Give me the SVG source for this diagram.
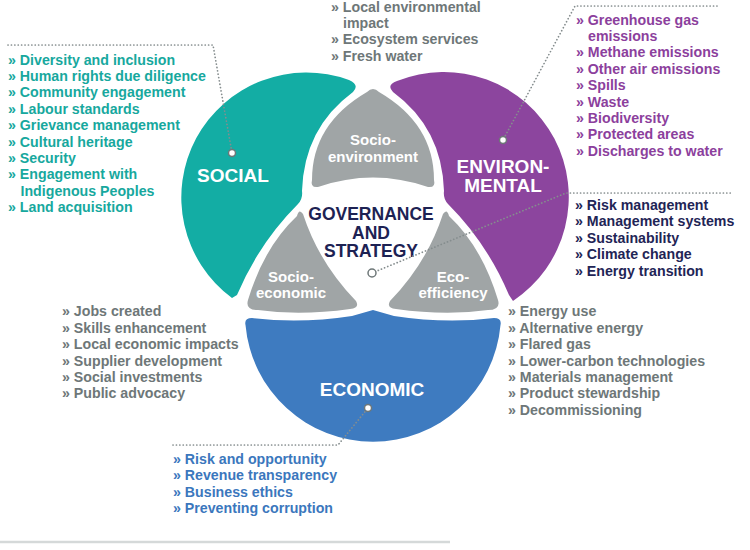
<svg xmlns="http://www.w3.org/2000/svg" width="750" height="550" viewBox="0 0 750 550">
<style>
text{font-family:"Liberation Sans",Arial,sans-serif;font-weight:bold}
.li{font-size:14.2px}
.teal{fill:#17a89e}.purp{fill:#8c3f9d}.gray{fill:#6e7778}.navy{fill:#1f2556}.blue{fill:#3b77bd}
.lbl{font-size:19px;fill:#fff;text-anchor:middle}
.sub{font-size:15px;fill:#fff;text-anchor:middle}
.gov{font-size:17.5px;fill:#1d2253;text-anchor:middle}
.dots{fill:none;stroke:#858d8e;stroke-width:1.7;stroke-linecap:round;stroke-dasharray:0.1 3.3}
.pin{fill:#fff;stroke:#6e7778;stroke-width:1.5}
.ov{fill:#a0a5a6}
</style>
<rect width="750" height="550" fill="#fff"/>

<g id="node-social">
<path d="M349,80 A125,125 0 0 0 232,298 L237,295 Q259,243 298,204 Q303,199 302,191 Q304,128 353,92 Q360,85 349,80 Z" fill="#13ada4"/>
<text class="lbl" x="233" y="182">SOCIAL</text>
</g>
<g id="node-environmental">
<path d="M397,81 A125,125 0 0 1 513,301 L509,295 Q487,243 448,204 Q443,199 444,191 Q442,128 393,92 Q386,85 397,81 Z" fill="#8c459e"/>
<text class="lbl" x="503" y="173">ENVIRON-</text>
<text class="lbl" x="503" y="192">MENTAL</text>
</g>
<g id="node-economic">
<path d="M252,318 Q244,318 245.5,325 A128,128 0 0 0 500.5,325 Q502,318 494,318 Q446,324 394,316 L373,310 L352,316 Q300,324 252,318 Z" fill="#3e7bc0"/>
<text class="lbl" x="372" y="396">ECONOMIC</text>
</g>
<g id="node-socio-environment">
<path class="ov" d="M312,180 Q312,124 367,92 Q373,86 379,92 Q434,124 434,180 Q436,188 428,187 Q373,168 318,187 Q310,188 312,180 Z"/>
<text class="sub" x="373" y="145">Socio-</text>
<text class="sub" x="373" y="161.5">environment</text>
</g>
<g id="node-socio-economic">
<path class="ov" d="M297,216 Q264,247 248,300 Q245,310 258,310 Q300,316 350,309 Q360,308 356,301 Q319,263 303,214 Q299,208 297,216 Z"/>
<text class="sub" x="291" y="282">Socio-</text>
<text class="sub" x="291" y="298">economic</text>
</g>
<g id="node-eco-efficiency">
<path class="ov" d="M449,216 Q482,247 498,300 Q501,310 488,310 Q446,316 396,309 Q386,308 390,301 Q427,263 443,214 Q447,208 449,216 Z"/>
<text class="sub" x="453" y="282">Eco-</text>
<text class="sub" x="453" y="298">efficiency</text>
</g>
<g id="node-governance">
<text class="gov" x="371" y="220">GOVERNANCE</text>
<text class="gov" x="371" y="238.5">AND</text>
<text class="gov" x="371" y="257">STRATEGY</text>
</g>

<g id="connectors">
<polyline class="dots" points="8,45 213,45 232,153"/>
<polyline class="dots" points="717,6 575,6 503,140"/>
<polyline class="dots" points="372,273 566,193 733,193"/>
<polyline class="dots" points="173,445 338,445 368,408"/>
<circle class="pin" cx="232" cy="153" r="3.5"/>
<circle class="pin" cx="503" cy="140" r="3.5"/>
<circle class="pin" cx="372" cy="273" r="4"/>
<circle class="pin" cx="368" cy="408" r="3.5"/>
</g>

<g id="list-social" class="li teal">
<text x="8" y="64.5">» Diversity and inclusion</text>
<text x="8" y="80.9">» Human rights due diligence</text>
<text x="8" y="97.3">» Community engagement</text>
<text x="8" y="113.7">» Labour standards</text>
<text x="8" y="130.1">» Grievance management</text>
<text x="8" y="146.5">» Cultural heritage</text>
<text x="8" y="162.9">» Security</text>
<text x="8" y="179.3">» Engagement with</text>
<text x="20.5" y="195.7">Indigenous Peoples</text>
<text x="8" y="212.1">» Land acquisition</text>
</g>
<g id="list-socio-environment" class="li gray">
<text x="331" y="11.5">» Local environmental</text>
<text x="343" y="27.9">impact</text>
<text x="331" y="44.3">» Ecosystem services</text>
<text x="331" y="60.7">» Fresh water</text>
</g>
<g id="list-environmental" class="li purp">
<text x="576" y="24.5">» Greenhouse gas</text>
<text x="588" y="40.9">emissions</text>
<text x="576" y="57.3">» Methane emissions</text>
<text x="576" y="73.7">» Other air emissions</text>
<text x="576" y="90.1">» Spills</text>
<text x="576" y="106.5">» Waste</text>
<text x="576" y="122.9">» Biodiversity</text>
<text x="576" y="139.3">» Protected areas</text>
<text x="576" y="155.7">» Discharges to water</text>
</g>
<g id="list-governance" class="li navy">
<text x="575" y="210">» Risk management</text>
<text x="575" y="226.4">» Management systems</text>
<text x="575" y="242.8">» Sustainability</text>
<text x="575" y="259.2">» Climate change</text>
<text x="575" y="275.6">» Energy transition</text>
</g>
<g id="list-socio-economic" class="li gray">
<text x="62" y="316.3">» Jobs created</text>
<text x="62" y="332.7">» Skills enhancement</text>
<text x="62" y="349.1">» Local economic impacts</text>
<text x="62" y="365.5">» Supplier development</text>
<text x="62" y="381.9">» Social investments</text>
<text x="62" y="398.3">» Public advocacy</text>
</g>
<g id="list-eco-efficiency" class="li gray">
<text x="508" y="316.3">» Energy use</text>
<text x="508" y="332.7">» Alternative energy</text>
<text x="508" y="349.1">» Flared gas</text>
<text x="508" y="365.5">» Lower-carbon technologies</text>
<text x="508" y="381.9">» Materials management</text>
<text x="508" y="398.3">» Product stewardship</text>
<text x="508" y="414.7">» Decommissioning</text>
</g>
<g id="list-economic" class="li blue">
<text x="173" y="464">» Risk and opportunity</text>
<text x="173" y="480.4">» Revenue transparency</text>
<text x="173" y="496.8">» Business ethics</text>
<text x="173" y="513.2">» Preventing corruption</text>
</g>
<line x1="0" y1="542" x2="450" y2="542" stroke="#d5d9d9" stroke-width="2.5"/>
</svg>
